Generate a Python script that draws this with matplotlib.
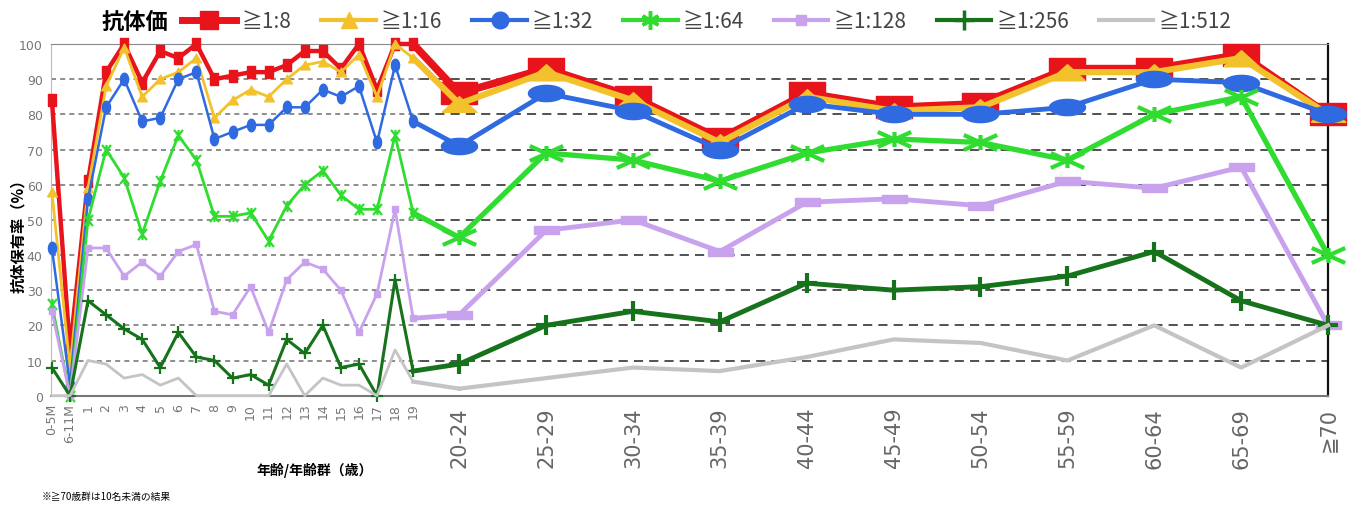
import numpy as np
import matplotlib
matplotlib.use("Agg")
import matplotlib.pyplot as plt
from matplotlib.lines import Line2D
from matplotlib.path import Path

plt.rcParams['font.family'] = ['DejaVu Sans', 'Noto Sans CJK JP']
JP = ['Noto Sans CJK JP', 'DejaVu Sans']

# age groups (two blocks: single years / 5-year groups)
ages_young = ['0-5M', '6-11M'] + [str(i) for i in range(1, 20)]
ages_adult = ['20-24', '25-29', '30-34', '35-39', '40-44', '45-49',
              '50-54', '55-59', '60-64', '65-69', '≧70']

# antibody prevalence (%) by titer
t8_young = [84, 13, 61, 92, 100, 89, 98, 96, 100, 90, 91, 92, 92, 94, 98, 98, 93, 100, 87, 100, 100]
t8_adult = [86, 93, 85, 73, 86, 82, 83, 93, 93, 97, 80]
t16_young = [58, 8, 59, 88, 99, 85, 90, 92, 96, 79, 84, 87, 85, 90, 94, 95, 92, 97, 85, 100, 96]
t16_adult = [83, 92, 84, 72, 85, 81, 82, 92, 92, 96, 80]
t32_young = [42, 3, 56, 82, 90, 78, 79, 90, 92, 73, 75, 77, 77, 82, 82, 87, 85, 88, 72, 94, 78]
t32_adult = [71, 86, 81, 70, 83, 80, 80, 82, 90, 89, 80]
t64_young = [26, 0, 50, 70, 62, 46, 61, 74, 67, 51, 51, 52, 44, 54, 60, 64, 57, 53, 53, 74, 52]
t64_adult = [45, 69, 67, 61, 69, 73, 72, 67, 80, 85, 40]
t128_young = [24, 0, 42, 42, 34, 38, 34, 41, 43, 24, 23, 31, 18, 33, 38, 36, 30, 18, 29, 53, 22]
t128_adult = [23, 47, 50, 41, 55, 56, 54, 61, 59, 65, 20]
t256_young = [8, 0, 27, 23, 19, 16, 8, 18, 11, 10, 5, 6, 3, 16, 12, 20, 8, 9, 0, 33, 7]
t256_adult = [9, 20, 24, 21, 32, 30, 31, 34, 41, 27, 20]
t512_young = [0, 0, 10, 9, 5, 6, 3, 5, 0, 0, 0, 0, 0, 9, 0, 5, 3, 3, 0, 13, 4]
t512_adult = [2, 5, 8, 7, 11, 16, 15, 10, 20, 8, 20]

labels = ['≧1:8', '≧1:16', '≧1:32', '≧1:64', '≧1:128', '≧1:256', '≧1:512']
colors = ['#e8141b', '#f3c12c', '#2f6ae0', '#2fdc2f', '#c9a2ee', '#17721c', '#c4c4c4']
young = [t8_young, t16_young, t32_young, t64_young, t128_young, t256_young, t512_young]
adult = [t8_adult, t16_adult, t32_adult, t64_adult, t128_adult, t256_adult, t512_adult]

# marker shapes
def rect(w, h):
    return [(-w, -h), (w, -h), (w, h), (-w, h), (-w, -h)]

def ellipse(w, h):
    t = np.linspace(0, 2 * np.pi, 40)
    return list(zip(w * np.cos(t), h * np.sin(t)))

def tri(w, h):
    return [(-w, -h), (w, -h), (0, h), (-w, -h)]

def star(w, h):
    v = [(-w, -h), (w, h), (-w, h), (w, -h), (0, -h), (0, h)]
    c = [Path.MOVETO, Path.LINETO, Path.MOVETO, Path.LINETO, Path.MOVETO, Path.LINETO]
    return Path(v, c)

# (marker, size, mew, lw) for the narrow block and the wide block
sty_young = [
    (rect(0.75, 1), 8, 1, 3.2),
    (tri(1, 0.9), 7, 1, 2.0),
    (ellipse(0.65, 1), 9, 1, 1.8),
    (star(0.8, 1), 8, 1.6, 2.0),
    (rect(1, 0.8), 5, 1, 2.0),
    ('+', 9, 1.6, 2.2),
    (None, 0, 0, 2.0),
]
sty_adult = [
    (rect(1, 0.6), 26, 1, 5.5),
    (tri(1, 0.45), 25, 1, 4.5),
    (ellipse(1, 0.45), 26, 1, 3.5),
    (star(1, 0.45), 24, 3.0, 3.8),
    (rect(1, 0.28), 18, 1, 3.5),
    ('+', 15, 3.0, 3.5),
    (None, 0, 0, 3.0),
]

x_young = np.arange(len(ages_young))
x_adult = 22.55 + 4.81 * np.arange(len(ages_adult))

fig = plt.figure(figsize=(13.59, 5.10), dpi=100)
ax = fig.add_axes([51 / 1359, 1 - 396.7 / 510, 1277 / 1359, 351.7 / 510])

split = 20.4
grid_y = np.arange(10, 100, 10)
ax.hlines(grid_y, -0.05, split, colors='#7a7a7a', linestyles=(0, (3, 2.5)), lw=1.2, zorder=1)
ax.hlines(grid_y, split, x_adult[-1], colors='#222222', linestyles=(0, (6, 4)), lw=1.1, zorder=1)

for i in range(len(labels)):
    c = colors[i]
    m, ms, mew, lw = sty_young[i]
    ax.plot(x_young, young[i], color=c, lw=lw, marker=m, ms=ms, mew=mew,
            mec=c, mfc=c, clip_on=False, zorder=3 + i)
    m2, ms2, mew2, lw2 = sty_adult[i]
    ax.plot([x_young[-1], x_adult[0]], [young[i][-1], adult[i][0]], color=c,
            lw=lw2, clip_on=False, zorder=3 + i)
    ax.plot(x_adult, adult[i], color=c, lw=lw2, marker=m2, ms=ms2, mew=mew2,
            mec=c, mfc=c, clip_on=False, zorder=3 + i)

ax.set_xlim(-0.05, x_adult[-1])
ax.set_ylim(0, 100)
ax.set_yticks(np.arange(0, 101, 10))
ax.tick_params(axis='y', length=0, pad=6, labelsize=9, labelcolor='#777777')
ax.tick_params(axis='x', length=0, pad=5, labelcolor='#777777')

ax.set_xticks(np.concatenate([x_young, x_adult]))
ax.set_xticklabels(ages_young + ages_adult, rotation=90)
for k, t in enumerate(ax.get_xticklabels()):
    if k < len(ages_young):
        t.set_fontsize(9)
    else:
        t.set_fontsize(15)
        t.set_color('#666666')
        t.set_y(-0.012)

ax.spines['top'].set_color('#8a8a8a')
ax.spines['bottom'].set_color('#777777')
ax.spines['bottom'].set_linewidth(1.5)
ax.spines['left'].set_color('#bbbbbb')
ax.spines['right'].set_color('#111111')
ax.spines['right'].set_linewidth(1.6)

fig.text(18 / 1359, 1 - 232 / 510, '抗体保有率（%）', rotation=90, ha='center', va='center',
         fontsize=11, fontweight='bold', family=JP)
fig.text(315 / 1359, 1 - 470 / 510, '年齢/年齢群（歳）', ha='center', va='center',
         fontsize=10, fontweight='bold', family=JP)
fig.text(42 / 1359, 1 - 497 / 510, '※≧70歳群は10名未満の結果', ha='left', va='center',
         fontsize=7, family=JP)

# legend
fig.text(135 / 1359, 1 - 22 / 510, '抗体価', ha='center', va='center', fontsize=16,
         fontweight='bold', family=JP)
leg_mk = [('s', 13, 1), ('^', 12, 1), ('o', 12, 1), ((6, 2, 0), 13, 2.5), ('s', 7, 1),
          ('+', 14, 2.5), (None, 0, 0)]
leg_lw = [5, 3, 3, 3, 3, 3, 3]
handles = []
for i in range(len(labels)):
    m, ms, mew = leg_mk[i]
    handles.append(Line2D([0], [0], color=colors[i], lw=leg_lw[i], marker=m, ms=ms,
                          mew=mew, mec=colors[i], mfc=colors[i]))
fig.legend(handles, labels, loc='center left', bbox_to_anchor=(182 / 1359, 1 - 22 / 510),
           ncol=7, frameon=False, handlelength=2.6, handletextpad=0.25,
           columnspacing=1.45, borderaxespad=0, borderpad=0, labelcolor='#444444',
           prop={'family': JP, 'size': 15})

fig.savefig('out.png', dpi=100)
